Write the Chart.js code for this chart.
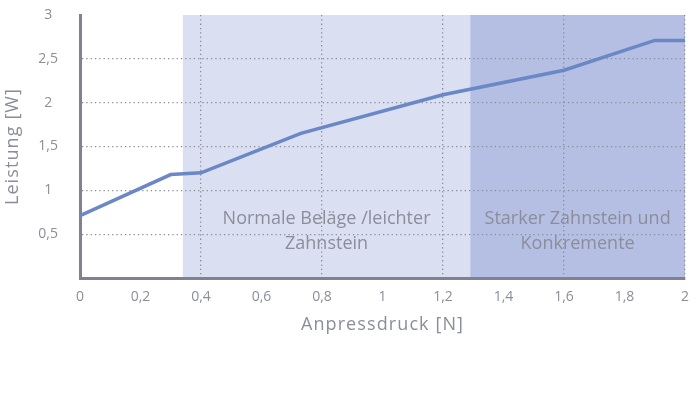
<!DOCTYPE html>
<html>
<head>
<meta charset="utf-8">
<script src="https://cdn.jsdelivr.net/npm/chart.js@4"></script>
<style>
  html, body { margin: 0; padding: 0; background: #ffffff; }
  #wrap { width: 700px; height: 393px; }
</style>
</head>
<body>
<div id="wrap"><canvas id="powerChart" width="700" height="393"></canvas></div>
<script>
// measured curve: pressure [N] -> power [W]
const pressure = [0, 0.3, 0.4, 0.73, 1.2, 1.6, 1.9, 2];
const power = [0.71, 1.18, 1.2, 1.65, 2.09, 2.37, 2.71, 2.71];

// shaded zones along the pressure axis
const zoneStart = [0.34, 1.29];
const zoneEnd = [1.29, 2];
const zoneLabels = [
    ["Normale Beläge /leichter", "Zahnstein"],
    ["Starker Zahnstein und", "Konkremente"]
];

const FONT = "'Open Sans', 'DejaVu Sans', sans-serif";
const TEXT_COLOR = "#8b8e9a";
const AXIS_COLOR = "#80838f";
const GRID_COLOR = "#8b8e9a";
const ZONE_COLORS = ["#dadff1", "#b4bfe3"];

// format numbers with a decimal comma
function fmt(v) {
    return String(Math.round(v * 10) / 10).replace(".", ",");
}

// draw zones and their captions below the grid,
// then widen the letters of the axis titles (drawn with the grid layer)
const zonePlugin = {
    id: "zones",
    beforeDraw(chart) {
        const { ctx, chartArea, scales } = chart;
        ctx.save();
        for (let i = 0; i < zoneStart.length; i++) {
            const x0 = scales.x.getPixelForValue(zoneStart[i]);
            const x1 = scales.x.getPixelForValue(zoneEnd[i]);
            ctx.fillStyle = ZONE_COLORS[i];
            ctx.fillRect(x0, chartArea.top, x1 - x0, chartArea.bottom - chartArea.top);
            ctx.fillStyle = TEXT_COLOR;
            ctx.font = "18px " + FONT;
            ctx.textAlign = "center";
            ctx.textBaseline = "middle";
            const cx = (x0 + x1) / 2;
            zoneLabels[i].forEach((line, j) => {
                ctx.fillText(line, cx, chartArea.bottom - 59 + j * 25);
            });
        }
        ctx.restore();
        ctx.letterSpacing = "1.1px";
    },
    afterDatasetsDraw(chart) {
        chart.ctx.letterSpacing = "0px";
    }
};

new Chart("powerChart", {
    type: "line",
    data: {
        datasets: [{
            data: pressure.map((p, i) => ({ x: p, y: power[i] })),
            borderColor: "#6a87c6",
            borderWidth: 3.5,
            pointRadius: 0,
            tension: 0,
            fill: false
        }]
    },
    options: {
        responsive: false,
        animation: false,
        layout: { padding: { top: 15, right: 15, bottom: 53, left: 0 } },
        plugins: {
            legend: { display: false },
            tooltip: { enabled: false }
        },
        scales: {
            x: {
                type: "linear",
                min: 0,
                max: 2,
                afterFit: scale => { scale.height = 62; },
                ticks: {
                    stepSize: 0.2,
                    padding: 11,
                    z: 1,
                    color: TEXT_COLOR,
                    font: { family: FONT, size: 14 },
                    callback: v => fmt(v)
                },
                grid: {
                    drawTicks: false,
                    lineWidth: 1.3,
                    color: ctx => (ctx.index > 0 && ctx.index % 2 === 0) ? GRID_COLOR : "transparent"
                },
                border: { color: AXIS_COLOR, width: 3, dash: [1.3, 3] },
                title: {
                    display: true,
                    text: "Anpressdruck [N]",
                    color: TEXT_COLOR,
                    font: { family: FONT, size: 18 },
                    padding: { top: 4, bottom: 4 }
                }
            },
            y: {
                min: 0,
                max: 3,
                // fixed axis width; the tick padding should not push the plot down
                afterFit: scale => {
                    scale.width = 80;
                    scale.paddingTop = 8;
                    scale.paddingBottom = 0;
                },
                ticks: {
                    stepSize: 0.5,
                    padding: 22,
                    z: 1,
                    crossAlign: "center",
                    color: TEXT_COLOR,
                    font: { family: FONT, size: 14 },
                    callback: v => v === 0 ? "" : fmt(v)
                },
                grid: {
                    drawTicks: false,
                    lineWidth: 1.3,
                    color: ctx => (ctx.tick && ctx.tick.value > 0 && ctx.tick.value < 3) ? GRID_COLOR : "transparent"
                },
                border: { color: AXIS_COLOR, width: 3, dash: [1.3, 3] },
                title: {
                    display: true,
                    text: "Leistung [W]",
                    color: TEXT_COLOR,
                    font: { family: FONT, size: 18 },
                    padding: { top: 2, bottom: 2 }
                }
            }
        }
    },
    plugins: [zonePlugin]
});
</script>
</body>
</html>
